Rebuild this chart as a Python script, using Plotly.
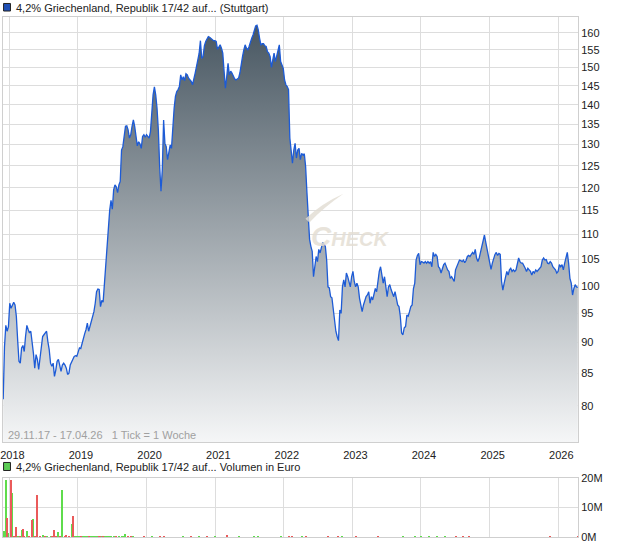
"""Wochenchart 4,2% Griechenland 17/42 mit Volumen (Plotly)."""

import numpy as np
import pandas as pd
import plotly.graph_objects as go

START = "2017-11-29"   # erster Wochen-Tick
END = "2026-04-17"

# Kurs je Woche (1 Tick = 1 Woche), ab 29.11.17
price = [
    81.0, 89.3, 92.9, 91.9, 92.7, 96.8, 95.9, 96.4, 97.0, 96.5,
    94.5, 90.4, 86.9, 86.6, 89.1, 89.5, 88.5, 91.0, 92.9, 92.2,
    91.6, 91.9, 90.4, 88.2, 85.8, 88.0, 87.2, 85.6, 87.4, 88.8,
    91.0, 91.3, 91.6, 91.9, 90.1, 88.8, 86.6, 86.1, 86.6, 84.5,
    85.5, 86.9, 87.2, 86.3, 85.3, 86.3, 86.6, 86.3, 85.8, 84.8,
    85.0, 86.3, 86.7, 87.2, 87.7, 87.8, 87.7, 88.4, 89.1, 89.0,
    89.9, 91.0, 91.5, 92.2, 93.3, 91.9, 92.7, 93.9, 94.5, 95.3,
    96.8, 98.9, 99.4, 99.3, 96.2, 97.3, 97.0, 100.5, 103.3, 108.3,
    111.0, 115.1, 117.2, 115.3, 119.5, 120.6, 120.2, 118.9, 120.6, 121.4,
    128.7, 129.5, 132.0, 134.5, 134.6, 133.6, 131.6, 132.4, 134.5, 136.1,
    134.5, 131.6, 129.7, 130.7, 130.2, 129.1, 132.0, 132.4, 131.8, 132.4,
    132.0, 131.6, 133.2, 139.1, 142.6, 144.7, 142.6, 139.1, 133.6, 124.8,
    119.2, 124.0, 136.1, 130.3, 129.5, 126.4, 128.7, 129.9, 129.1, 134.5,
    139.1, 142.2, 143.5, 144.0, 144.8, 148.0, 146.6, 147.5, 146.4, 148.3,
    148.0, 147.1, 146.6, 146.2, 145.3, 146.6, 148.5, 150.3, 152.2, 154.0,
    157.7, 152.6, 153.1, 156.2, 157.5, 158.4, 158.9, 158.7, 158.4, 157.9,
    157.7, 157.7, 157.5, 155.2, 156.0, 156.5, 155.5, 154.1, 149.0, 144.4,
    147.5, 151.2, 148.0, 149.0, 148.5, 147.5, 146.9, 146.6, 146.9, 147.1,
    148.5, 151.2, 153.1, 155.0, 156.5, 155.5, 155.0, 156.0, 157.5, 158.4,
    159.4, 160.9, 162.1, 162.3, 160.9, 158.4, 156.5, 156.8, 156.8, 156.2,
    156.0, 154.5, 154.1, 153.1, 150.1, 152.1, 154.1, 151.7, 153.1, 155.0,
    156.5, 151.7, 150.8, 149.8, 146.6, 145.3, 144.8, 144.0, 131.6, 127.6,
    125.6, 128.7, 130.3, 126.8, 128.7, 129.1, 126.4, 127.9, 127.5, 127.8,
    124.8, 118.9, 113.2, 109.0, 107.6, 106.6, 101.7, 103.6, 105.6, 104.6,
    107.0, 106.3, 107.6, 108.4, 108.0, 107.6, 104.9, 99.8, 99.6, 98.0,
    97.8, 95.6, 93.4, 91.9, 91.0, 90.3, 95.6, 95.0, 99.8, 101.1,
    99.8, 102.4, 101.7, 100.5, 99.8, 101.7, 102.7, 100.8, 99.8, 100.5,
    99.8, 97.7, 96.2, 95.3, 96.5, 97.4, 98.0, 98.3, 98.9, 96.8,
    98.0, 97.4, 98.6, 99.5, 98.9, 101.1, 102.7, 103.6, 102.0, 100.5,
    101.7, 99.8, 98.0, 99.8, 100.2, 99.3, 98.6, 98.0, 98.9, 97.7,
    96.5, 96.2, 94.5, 91.6, 91.3, 92.5, 92.7, 94.7, 94.5, 95.3,
    96.2, 96.5, 99.5, 100.5, 104.9, 105.8, 106.2, 104.0, 104.6, 104.5,
    104.3, 104.6, 104.3, 104.6, 104.3, 104.6, 103.6, 106.4, 105.6, 106.0,
    105.6, 103.6, 103.3, 102.4, 103.3, 104.0, 104.3, 103.6, 103.0, 102.7,
    101.4, 101.7, 101.1, 100.8, 103.0, 103.6, 104.0, 104.9, 104.8, 104.6,
    104.9, 104.4, 104.8, 105.6, 105.8, 105.6, 106.0, 106.4, 106.0, 107.0,
    105.3, 104.6, 105.3, 106.6, 108.0, 109.0, 109.9, 108.4, 107.0, 105.6,
    104.6, 103.1, 104.3, 105.3, 106.0, 106.4, 105.8, 106.2, 106.0, 100.8,
    99.2, 100.5, 101.7, 102.7, 102.0, 103.0, 103.3, 102.7, 103.0, 102.7,
    103.0, 104.3, 105.3, 104.6, 104.3, 104.3, 103.6, 103.3, 102.7, 103.3,
    103.0, 102.7, 102.0, 102.7, 102.4, 103.0, 102.7, 103.0, 103.3, 103.6,
    104.9, 105.3, 104.9, 105.0, 104.3, 104.2, 104.6, 104.3, 103.6, 103.3,
    103.0, 102.4, 102.7, 104.0, 103.6, 104.0, 103.0, 104.3, 105.3, 106.4,
    104.3, 101.4, 100.5, 98.3, 99.5, 100.2, 99.8, 99.7,
]

# Volumen in Mio. Euro: Wochen-Nr., Wert, 1 = Woche im Plus (gruen), 0 = im Minus (rot)
vol_week = [1, 2, 3, 4, 6, 7, 8, 10, 11, 13, 14, 15, 16, 18, 20, 22, 23, 24, 26, 28,
            30, 32, 33, 36, 37, 39, 40, 42, 43, 45, 47, 48, 50, 52, 53,
            55, 56, 57, 58, 59, 60, 61, 62, 63, 64, 65, 66, 67, 68, 69, 70, 71, 72,
            73, 74, 75, 76, 77, 78, 79, 80, 81, 82, 84, 86, 88, 90, 91, 93, 95, 97, 99,
            107, 113, 119, 122, 137, 143, 149, 155, 161, 170, 179, 191, 194, 211, 217,
            220, 227, 230, 247, 255, 258, 268, 285, 304, 313, 318, 324, 330, 336, 344,
            350, 354, 416, 437]
vol_mio = [2.0, 19.3, 6.6, 1.5, 19.3, 14.8, 0.5, 3.4, 0.5, 0.3, 2.3, 2.6, 0.3, 2.0, 0.3,
           5.7, 6.0, 0.5, 14.3, 0.3, 0.7, 0.3, 0.3, 0.3, 0.3, 2.3, 0.3, 1.7, 0.3, 15.9,
           0.3, 0.7, 0.5, 4.5, 7.2,
           0.3, 0.2, 0.3, 0.2, 0.2, 0.3, 0.2, 0.3, 0.2, 0.4, 0.3, 0.2, 0.3, 0.2, 0.3,
           0.4, 0.3, 0.2, 0.2, 0.3, 0.2, 0.2, 0.3, 0.4, 0.3, 0.2, 0.3, 0.2, 0.3, 0.2,
           0.2, 0.3, 0.2, 0.9, 0.2, 0.2, 0.2,
           0.2, 0.2, 0.2, 0.2, 0.2, 0.2, 0.2, 0.2, 0.2, 0.6, 0.2, 0.3, 0.2, 0.5, 0.3,
           0.2, 0.2, 0.2, 0.3, 0.2, 0.2, 0.3, 0.2, 0.2, 0.3, 0.2, 0.2, 0.2, 0.3, 0.2,
           0.2, 0.3, 0.2, 0.2]
vol_up = [1, 1, 0, 1, 0, 1, 0, 0, 1, 0, 1, 0, 0, 1, 0, 0, 1, 0, 0, 0,
          1, 0, 1, 1, 0, 0, 0, 1, 0, 1, 0, 0, 0, 1, 0,
          1, 1, 1, 1, 0, 1, 1, 1, 1, 1, 0, 1, 1, 1, 1, 1, 1, 1,
          0, 0, 1, 0, 1, 1, 1, 1, 1, 1, 1, 0, 1, 1, 1, 1, 0, 0, 1,
          0, 1, 0, 0, 1, 0, 1, 0, 1, 0, 1, 1, 1, 1, 0,
          0, 1, 0, 0, 0, 1, 0, 0, 1, 1, 1, 1, 1, 1, 0,
          0, 0, 0, 0]

y_ticks = list(range(80, 161, 5))

TITLE_KURS = "4,2% Griechenland, Republik 17/42 auf... (Stuttgart)"
TITLE_VOL = "4,2% Griechenland, Republik 17/42 auf... Volumen in Euro"
ZEITRAUM = "29.11.17 - 17.04.26   1 Tick = 1 Woche"

# ---------------------------------------------------------------------------
dates = pd.date_range(START, periods=len(price), freq="7D")
vol_dates = pd.Timestamp(START) + pd.to_timedelta(np.array(vol_week) * 7, unit="D")
vol = pd.DataFrame({"date": vol_dates, "mio": vol_mio, "up": vol_up})

FONT = "Arial, 'Liberation Sans', sans-serif"
GRID = "#dddddd"
x_range = ["2017-11-28", "2026-04-16"]
years = pd.date_range("2018-01-01", "2026-01-01", freq="YS")

fig = go.Figure()

fig.add_trace(go.Scatter(
    x=dates, y=price,
    mode="lines",
    line=dict(color="#1d5bd6", width=1.3),
    fill="tozeroy",
    fillgradient=dict(
        type="vertical",
        colorscale=[[0, "#f5f6f7"], [1, "#45545f"]],
        start=74.8, stop=164.8,
    ),
    xaxis="x", yaxis="y",
    hoverinfo="x+y",
))

bar_width = 5.5 * 24 * 3600 * 1000
for up, color in [(1, "#5fdc4c"), (0, "#ea5a5a")]:
    sub = vol[vol["up"] == up]
    fig.add_trace(go.Bar(
        x=sub["date"], y=sub["mio"],
        marker=dict(color=color, line=dict(width=0)),
        width=bar_width,
        xaxis="x2", yaxis="y2",
    ))

axis_common = dict(
    showgrid=True, gridcolor=GRID, gridwidth=1,
    showline=True, linecolor="#cfcfcf", linewidth=1, mirror=True,
    zeroline=False, ticks="", automargin=False,
    tickfont=dict(family=FONT, size=11, color="#222222"),
)

fig.update_layout(
    width=620, height=546,
    margin=dict(l=3, r=42, t=17, b=9),
    paper_bgcolor="white", plot_bgcolor="white",
    showlegend=False, bargap=0,
    font=dict(family=FONT, size=11, color="#222222"),
    xaxis=dict(
        domain=[0, 1], anchor="y", type="date", range=x_range,
        tickvals=years, tickformat="%Y", ticklabeloverflow="allow",
        ticklabelshift=3, ticklabelstandoff=3,
        **axis_common,
    ),
    yaxis=dict(
        domain=[0.1827, 1], anchor="x", type="log", side="right",
        range=[np.log10(74.8), np.log10(164.8)],
        tickvals=y_ticks, ticktext=[str(v) for v in y_ticks],
        **axis_common,
    ),
    xaxis2=dict(
        domain=[0, 1], anchor="y2", type="date", range=x_range,
        tickvals=years, showticklabels=False, **axis_common,
    ),
    yaxis2=dict(
        domain=[0, 0.1135], anchor="x2", side="right", range=[0, 20],
        tickvals=[0, 10, 20], ticktext=["0M", "10M", "20M"],
        ticklabeloverflow="allow",
        **axis_common,
    ),
)

# Titelzeilen mit farbigem Kaestchen
for y_txt, y0, y1, fill, text in [
    (1.0173, 1.0115, 1.026, "#1f4fb5", TITLE_KURS),
    (0.1346, 0.1279, 0.1433, "#5ccc55", TITLE_VOL),
]:
    fig.add_shape(type="rect", xref="paper", yref="paper",
                  x0=0.001, x1=0.013, y0=y0, y1=y1,
                  fillcolor=fill, line=dict(color="#222222", width=1))
    fig.add_annotation(xref="paper", yref="paper", x=0.019, y=y_txt,
                       xanchor="left", yanchor="middle", showarrow=False,
                       text=text, font=dict(size=11, color="#222222"))

fig.add_annotation(xref="paper", yref="paper", x=0.005, y=0.196,
                   xanchor="left", yanchor="middle", showarrow=False,
                   text=ZEITRAUM, font=dict(size=11, color="#a0a0a0"))

# Wasserzeichen
fig.add_shape(type="path", xref="paper", yref="paper",
              path="M 0.526,0.612 Q 0.555,0.642 0.592,0.660 Q 0.557,0.633 0.533,0.605 Z",
              fillcolor="rgba(225,220,210,0.8)", line=dict(width=0))
fig.add_annotation(xref="paper", yref="paper", x=0.532, y=0.577,
                   xanchor="left", yanchor="middle", showarrow=False,
                   text="<i><b>C</b></i><i><b><span style='font-size:20px'>HECK</span></b></i>",
                   font=dict(size=28, color="rgba(228,222,212,0.85)"))

# Seitenrand des Browsers entfernen, damit das Diagramm bei (0,0) beginnt
fig.write_html("out.html", config={"displayModeBar": False},
               post_script="document.body.style.margin='0px';")
